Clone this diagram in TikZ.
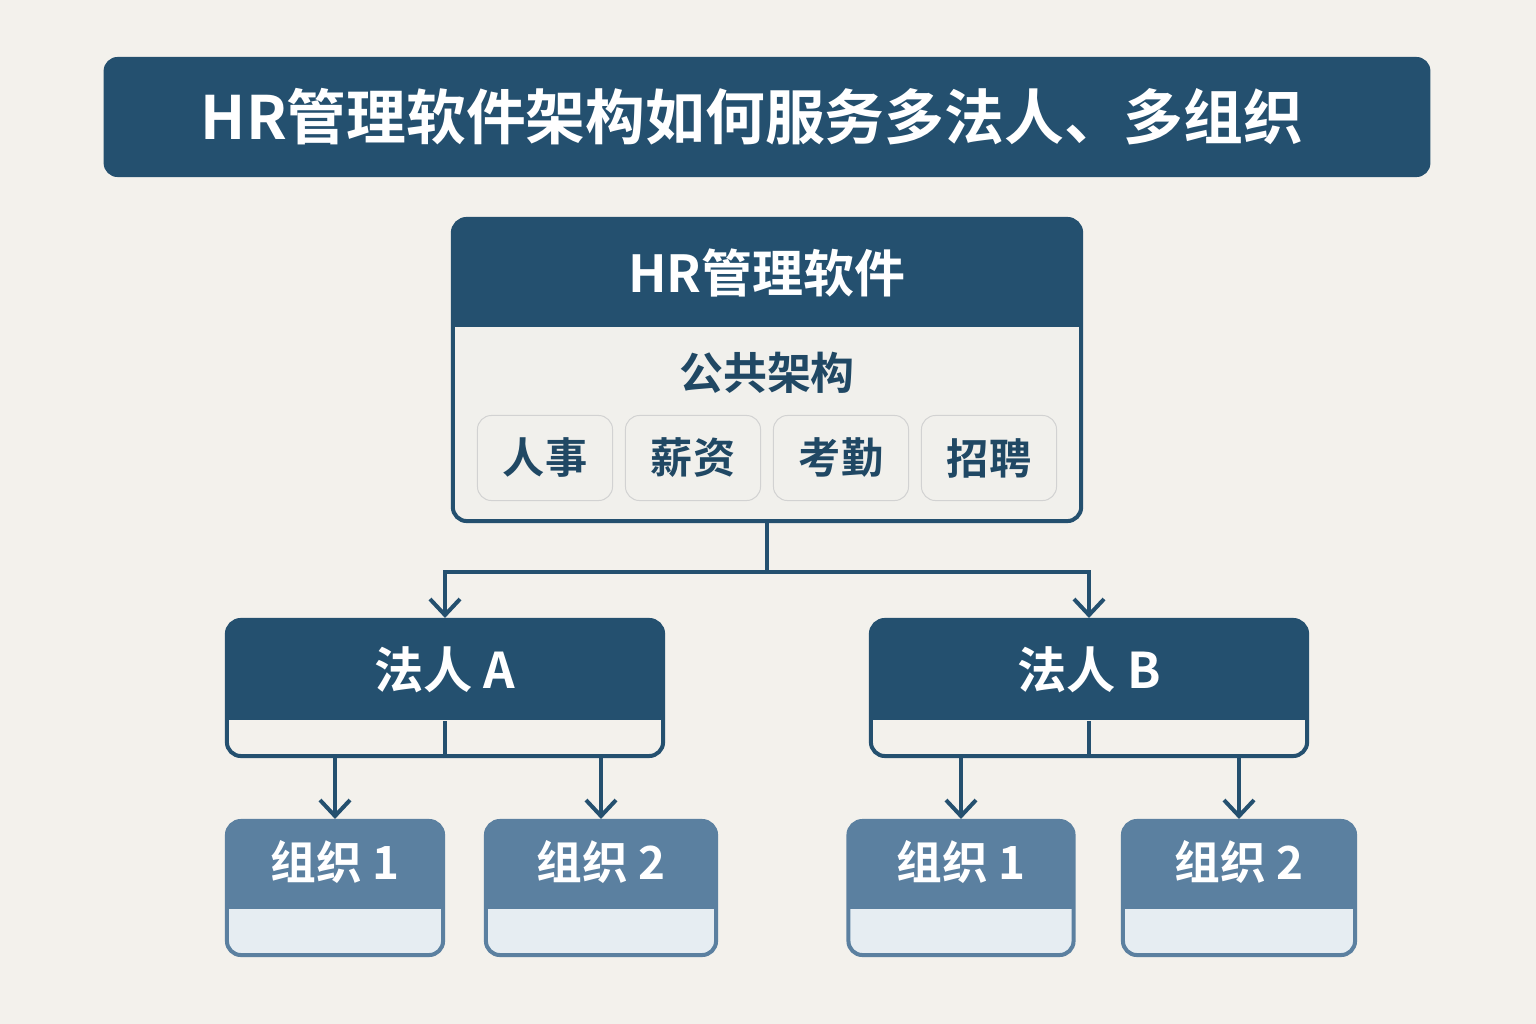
\documentclass[tikz,border=0pt]{standalone}
\usepackage{fontspec}
\setmainfont{Noto Sans CJK SC}[BoldFont={Noto Sans CJK SC Bold}]
\usetikzlibrary{arrows.meta}
\definecolor{navy}{HTML}{24506F}
\definecolor{steel}{HTML}{5B80A0}
\definecolor{paleblue}{HTML}{E6EDF2}
\definecolor{paper}{HTML}{F3F1EC}
\definecolor{chip}{HTML}{F1F0EC}
\tikzset{
  splitbox/.style n args={3}{draw=#1, line width=0.04cm, rounded corners=0.14cm,
    fill=#3, inner sep=0pt,
    path picture={\fill[#1, sharp corners] (path picture bounding box.north west) rectangle
      ([yshift=-#2]path picture bounding box.north east);}},
  chipbox/.style={draw=gray!35, fill=chip, rounded corners=0.14cm, line width=0.01cm,
    minimum width=1.35cm, minimum height=0.85cm, font=\fontsize{12}{12}\selectfont\bfseries, text=navy!90!black},
  conn/.style={draw=navy, line width=0.04cm, -{Straight Barb[length=0.16cm,width=0.3cm,line width=0.04cm]}},
}
\begin{document}
\begin{tikzpicture}[x=0.01cm,y=-0.01cm]
\fill[paper] (0,0) rectangle (1536,1024);
\useasboundingbox (0,0) rectangle (1536,1024);
% title
\node[fill=navy, rounded corners=0.14cm, minimum width=13.26cm, minimum height=1.2cm] (title) at (767,117) {};
\node[text=white, font=\fontsize{17}{17}\selectfont\bfseries] (titlelbl) at (752,117) {HR管理软件架构如何服务多法人、多组织};
% software box
\node[splitbox={navy}{1.08cm}{chip}, minimum width=6.28cm, minimum height=3.02cm] (main) at (767,370) {};
\node[text=white, font=\fontsize{14.5}{14.5}\selectfont\bfseries] (mainlbl) at (767,273) {HR管理软件};
\node[text=navy!90!black, font=\fontsize{12.5}{12.5}\selectfont\bfseries] (common) at (767,373) {公共架构};
\node[chipbox] (hr) at (545,458) {人事};
\node[chipbox] (pay) at (693,458) {薪资};
\node[chipbox] (att) at (841,458) {考勤};
\node[chipbox] (rec) at (989,458) {招聘};
% legal entities
\node[splitbox={navy}{1.0cm}{paper}, minimum width=4.36cm, minimum height=1.36cm] (la) at (445,688) {};
\node[text=white, font=\fontsize{14}{14}\selectfont\bfseries] at (445,670) {法人 A};
\draw[navy, line width=0.04cm] (la.south) -- ++(0,-37);
\node[splitbox={navy}{1.0cm}{paper}, minimum width=4.36cm, minimum height=1.36cm] (lb) at (1089,688) {};
\node[text=white, font=\fontsize{14}{14}\selectfont\bfseries] at (1089,670) {法人 B};
\draw[navy, line width=0.04cm] (lb.south) -- ++(0,-37);
% organisations
\foreach \nm/\cx/\w/\t in {a1/335/2.16/组织 1, a2/601/2.30/组织 2, b1/961/2.25/组织 1, b2/1239/2.32/组织 2}{
  \node[splitbox={steel}{0.88cm}{paleblue}, minimum width=\w cm, minimum height=1.34cm] (\nm) at (\cx,888) {};
  \node[text=white, font=\fontsize{13}{13}\selectfont\bfseries] at (\cx,862) {\t};
}
% connectors
\draw[navy, line width=0.04cm] (main.south) -- ++(0,49) coordinate (split);
\draw[conn] (split) -| (la.north);
\draw[conn] (split) -| (lb.north);
\draw[conn] (a1.north |- la.south) -- (a1.north);
\draw[conn] (a2.north |- la.south) -- (a2.north);
\draw[conn] (b1.north |- lb.south) -- (b1.north);
\draw[conn] (b2.north |- lb.south) -- (b2.north);
\end{tikzpicture}
\end{document}
